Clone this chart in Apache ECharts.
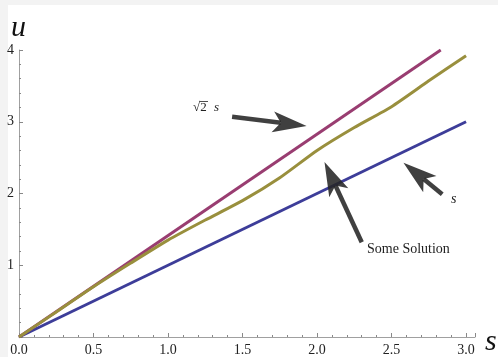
<!DOCTYPE html>
<html>
<head>
<meta charset="utf-8">
<script src="https://cdn.jsdelivr.net/npm/echarts@6/dist/echarts.min.js"></script>
<style>
html,body{margin:0;padding:0;background:#f3f3f3;}
#chart{width:498px;height:357px;}
</style>
</head>
<body>
<div id="chart"></div>
<script>
// values
var lineS = [0, 3];
var lineU = [0, 3];
var rootS = [0, 2.83];
var rootU = [0, 4];
var solS = [0, 0.25, 0.5, 0.75, 1.0, 1.25, 1.5, 1.75, 2.0, 2.25, 2.5, 2.75, 3.0];
var solU = [0, 0.35, 0.70, 1.03, 1.35, 1.63, 1.90, 2.22, 2.60, 2.92, 3.21, 3.57, 3.92];
var xTicks = [0, 0.5, 1, 1.5, 2, 2.5, 3];
var yTicks = [1, 2, 3, 4];
// arrows: tail s, tail u, tip s, tip u
var arrowRoot = [1.43, 3.07, 1.93, 2.94];
var arrowLine = [2.84, 1.99, 2.58, 2.43];
var arrowSol = [2.30, 1.32, 2.05, 2.44];

function pairs(a, b){
  var out = [];
  for (var i = 0; i < a.length; i++) out.push([a[i], b[i]]);
  return out;
}

function drawArrow(params, api){
  var a = api.coord([api.value(0), api.value(1)]);
  var b = api.coord([api.value(2), api.value(3)]);
  var dx = b[0] - a[0], dy = b[1] - a[1];
  var len = Math.sqrt(dx * dx + dy * dy);
  var ux = dx / len, uy = dy / len, nx = -uy, ny = ux;
  var L = 34, W = 10.5, N = 8;
  var back = [b[0] - ux * L, b[1] - uy * L];
  var notch = [b[0] - ux * (L - N), b[1] - uy * (L - N)];
  var col = '#252525';
  return {
    type: 'group',
    children: [
      {type: 'line', shape: {x1: a[0], y1: a[1], x2: notch[0], y2: notch[1]},
        style: {stroke: col, lineWidth: 4.5, opacity: 0.88}},
      {type: 'polygon', shape: {points: [b, [back[0] + nx * W, back[1] + ny * W], notch, [back[0] - nx * W, back[1] - ny * W]]},
        style: {fill: col, opacity: 0.88}}
    ]
  };
}

var serif = '"Liberation Serif", "DejaVu Serif", serif';
var chart = echarts.init(document.getElementById('chart'));
chart.setOption({
  animation: false,
  backgroundColor: '#f3f3f3',
  grid: {left: 19, top: 50, width: 456, height: 288, containLabel: false},
  xAxis: {
    type: 'value', min: 0, max: 3.06, interval: 0.5,
    splitLine: {show: false},
    axisLine: {onZero: false, lineStyle: {color: '#a0a0a0', width: 1}},
    axisTick: {inside: true, length: 4, lineStyle: {color: '#888'}},
    minorTick: {show: true, splitNumber: 5, length: 2, lineStyle: {color: '#888'}},
    axisLabel: {
      margin: 6, color: '#222', fontFamily: serif, fontSize: 14,
      formatter: function(v){ return xTicks.indexOf(v) >= 0 ? v.toFixed(1) : ''; }
    }
  },
  yAxis: {
    type: 'value', min: 0, max: 4, interval: 1,
    splitLine: {show: false},
    axisLine: {onZero: false, lineStyle: {color: '#a0a0a0', width: 1}},
    axisTick: {inside: true, length: 4, lineStyle: {color: '#888'}},
    minorTick: {show: true, splitNumber: 5, length: 2, lineStyle: {color: '#888'}},
    axisLabel: {
      margin: 5, color: '#222', fontFamily: serif, fontSize: 14,
      formatter: function(v){ return yTicks.indexOf(v) >= 0 ? String(v) : ''; }
    }
  },
  series: [
    {
      type: 'line', data: pairs(lineS, lineU), showSymbol: false, silent: true,
      lineStyle: {color: '#3d3d99', width: 3}, z: 2
    },
    {
      type: 'line', data: pairs(rootS, rootU), showSymbol: false, silent: true,
      lineStyle: {color: '#993d71', width: 3}, z: 3
    },
    {
      type: 'line', data: pairs(solS, solU), showSymbol: false, silent: true, smooth: 0.2,
      lineStyle: {color: '#998f3d', width: 3}, z: 4
    },
    {
      type: 'custom', silent: true, z: 10,
      encode: {x: [0, 2], y: [1, 3]},
      renderItem: drawArrow,
      data: [arrowRoot, arrowLine, arrowSol]
    }
  ],
  graphic: [
    {type: 'rect', left: 8, top: 5, shape: {width: 490, height: 352}, style: {fill: '#ffffff'}, z: -100, silent: true},
    {type: 'text', left: 11, top: 13, z: 100,
      style: {text: 'u', font: 'italic 30px ' + serif, fill: '#111'}},
    {type: 'text', left: 485, top: 327, z: 100,
      style: {text: 's', font: 'italic 30px ' + serif, fill: '#111'}},
    {type: 'text', left: 193, top: 101, z: 100,
      style: {text: '\u221A2', font: '13px ' + serif, fill: '#222'}},
    {type: 'line', z: 100, shape: {x1: 199.5, y1: 101.5, x2: 208, y2: 101.5}, style: {stroke: '#222', lineWidth: 0.8}},
    {type: 'text', left: 214, top: 101, z: 100,
      style: {text: 's', font: 'italic 13px ' + serif, fill: '#222'}},
    {type: 'text', left: 451, top: 192, z: 100,
      style: {text: 's', font: 'italic 14px ' + serif, fill: '#222'}},
    {type: 'text', left: 367, top: 242, z: 100,
      style: {text: 'Some Solution', font: '14px ' + serif, fill: '#222'}}
  ]
});
</script>
</body>
</html>
